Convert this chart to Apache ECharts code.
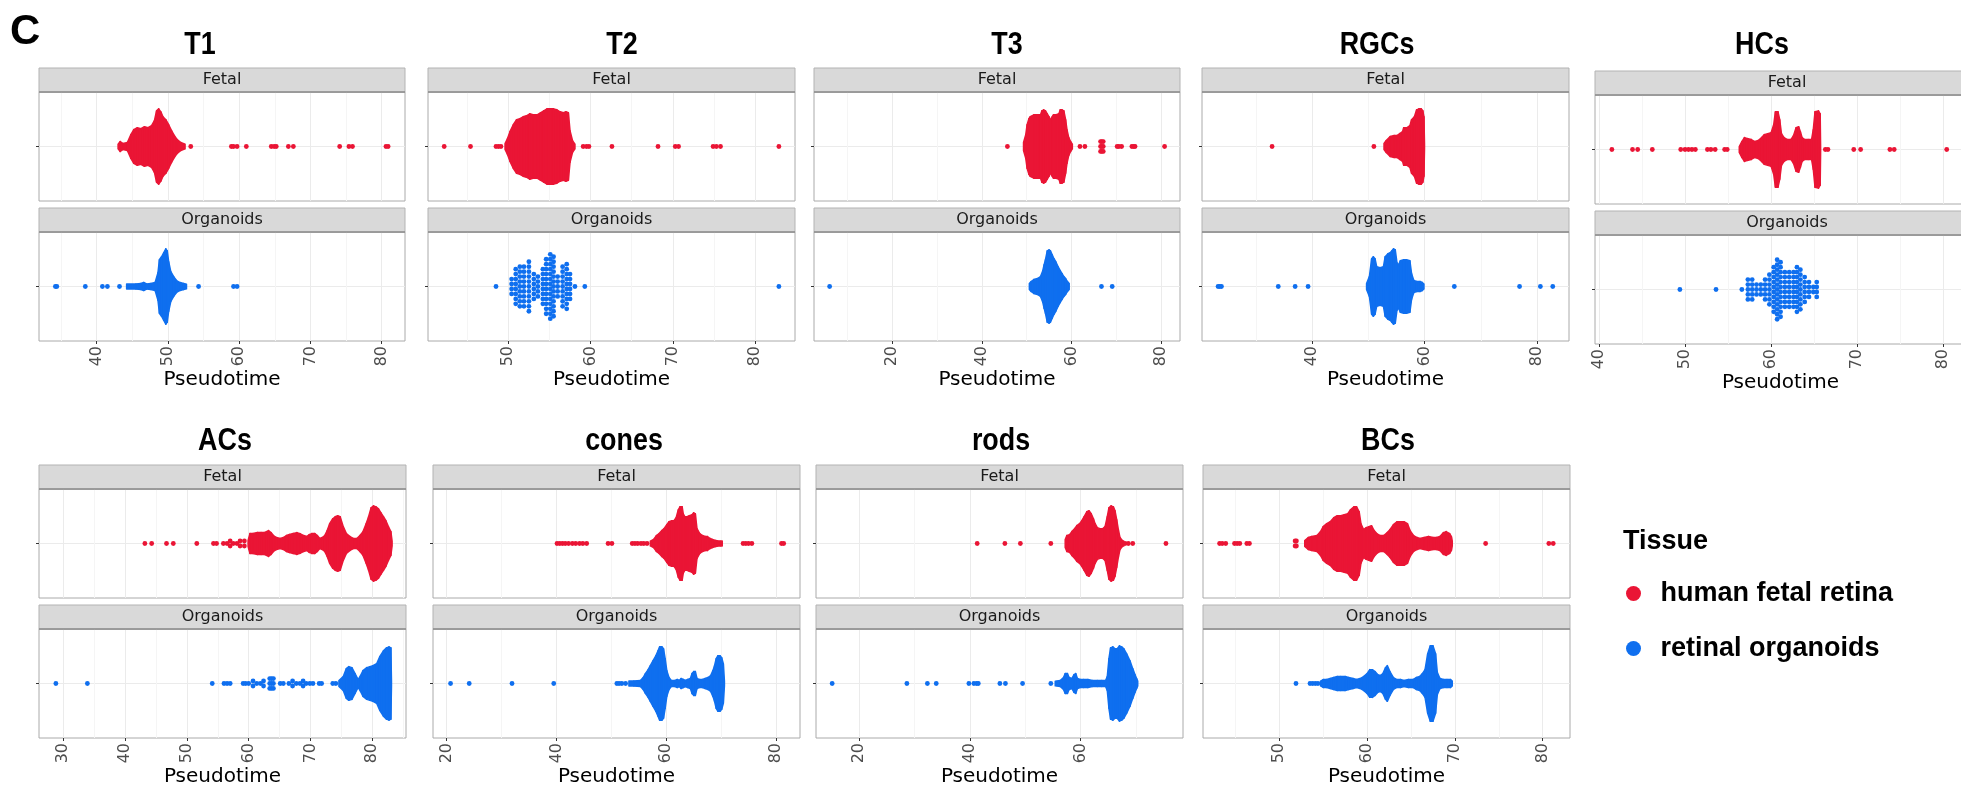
<!DOCTYPE html>
<html>
<head>
<meta charset="utf-8">
<title>Pseudotime by cell type</title>
<script src="https://cdn.jsdelivr.net/npm/echarts@6/dist/echarts.min.js"></script>
<style>
  html, body { margin: 0; padding: 0; background: #fff; }
  #chart { width: 1961px; height: 787px; }
</style>
</head>
<body>
<div id="chart"></div>
<script>
// panels and axes
const panelNames = ['T1', 'T2', 'T3', 'RGCs', 'HCs', 'ACs', 'cones', 'rods', 'BCs'];
const xMins = [31.9, 40.23, 2.51, 20.44, 39.54, 26.07, 17.5, 12.18, 41.31];
const xMaxs = [83.27, 84.86, 84.24, 85.69, 82.64, 85.45, 84.37, 78.48, 83.11];
const t1Ticks = [40, 50, 60, 70, 80];
const t2Ticks = [50, 60, 70, 80];
const t3Ticks = [20, 40, 60, 80];
const rgcTicks = [40, 60, 80];
const hcTicks = [40, 50, 60, 70, 80];
const acTicks = [30, 40, 50, 60, 70, 80];
const coneTicks = [20, 40, 60, 80];
const rodTicks = [20, 40, 60];
const bcTicks = [50, 60, 70, 80];
const facetNames = ['Fetal', 'Organoids'];
const tissueNames = ['human fetal retina', 'retinal organoids'];

// swarm bodies: [pseudotime, half height of the swarm]
// dots: [pseudotime, number of stacked dots]
const t1FetalBody = [[43.0,2],[43.3,5],[43.7,3],[44.3,4],[44.8,12],[45.2,17],[45.7,19],[46.2,18],[46.7,20],[47.2,19],[47.7,21],[48.1,26],[48.4,36],[48.7,38],[49.0,35],[49.3,30],[49.7,27],[50.1,22],[50.5,16],[50.9,11],[51.3,7],[51.8,4],[52.4,2]];
const t1FetalDots = [[53.2,1],[58.9,1],[59.2,1],[59.7,1],[61.0,1],[64.5,1],[64.9,1],[65.2,1],[66.9,1],[67.6,1],[74.1,1],[75.4,1],[75.9,1],[80.6,1],[80.9,1]];
const t1OrgBody = [[44.2,2],[45.5,2.5],[46.2,3],[46.6,4],[47.0,2.5],[47.6,3],[48.2,4],[48.6,14],[48.8,27],[49.1,30],[49.4,34],[49.7,38],[49.9,36],[50.1,25],[50.4,15],[50.8,10],[51.2,6],[51.7,4],[52.2,3],[52.6,2]];
const t1OrgDots = [[34.2,1],[34.4,1],[38.4,1],[40.8,1],[41.5,1],[43.2,1],[54.3,1],[59.2,1],[59.7,1]];

const t2FetalBody = [[49.6,3],[49.9,8],[50.2,15],[50.6,22],[51.0,27],[51.4,28],[51.8,30],[52.2,31],[52.6,33],[53.0,32],[53.5,32],[53.9,34],[54.3,36],[54.7,38],[55.1,38],[55.5,38],[55.9,37],[56.3,35],[56.7,34],[57.0,35],[57.3,34],[57.5,16],[57.8,6],[58.1,2]];
const t2FetalDots = [[42.2,1],[45.4,1],[48.5,1],[48.8,1],[49.1,1],[59.1,1],[59.5,1],[59.8,1],[62.6,1],[68.2,1],[70.3,1],[70.7,1],[74.9,1],[75.3,1],[75.8,1],[82.9,1]];
const t2OrgBody = [];
const t2OrgDots = [[48.5,1],[50.4,4],[50.9,8],[51.4,9],[51.9,9],[52.5,11],[53.1,6],[53.6,5],[54.2,8],[54.6,12],[55.1,14],[55.5,13],[56.0,5],[56.6,9],[57.1,10],[57.5,6],[58.1,1],[59.3,1],[82.9,1]];

const t3FetalBody = [[49.3,4],[49.8,12],[50.1,22],[50.5,28],[50.8,30],[51.6,32],[52.4,32],[53.1,32],[53.4,36],[53.8,37],[54.2,36],[54.6,33],[55.0,30],[55.3,27],[55.7,30],[56.0,32],[56.6,32],[57.2,33],[57.5,37],[57.9,37],[58.3,36],[58.7,27],[59.0,17],[59.4,9],[59.8,5],[60.2,2]];
const t3FetalDots = [[45.7,1],[61.9,1],[63.0,1],[66.5,3],[66.8,3],[67.1,3],[70.2,1],[70.6,1],[71.2,1],[73.5,1],[73.9,1],[74.2,1],[80.8,1]];
const t3OrgBody = [[50.6,3],[51.0,5],[51.6,7],[52.4,8],[53.1,10],[53.6,16],[53.9,22],[54.2,27],[54.6,36],[55.0,37],[55.3,36],[55.7,32],[56.1,28],[56.5,25],[57.0,20],[57.5,16],[57.9,13],[58.3,10],[58.7,8],[59.1,5],[59.5,3]];
const t3OrgDots = [[6.0,1],[66.7,1],[69.1,1]];

const rgcFetalBody = [[52.8,3],[53.2,6],[53.9,10],[54.6,11],[55.1,11],[55.6,13],[56.1,15],[56.3,19],[56.9,19],[57.4,21],[57.7,27],[58.2,30],[58.6,37],[59.0,38],[59.4,38],[59.7,36],[59.9,30],[60.0,2]];
const rgcFetalDots = [[32.9,1],[51.0,1]];
const rgcOrgBody = [[49.7,3],[50.2,10],[50.6,28],[50.9,30],[51.2,28],[51.5,20],[52.1,19],[52.7,20],[53.0,30],[53.5,33],[53.9,34],[54.2,36],[54.5,38],[54.8,37],[55.1,24],[55.4,22],[55.7,26],[56.3,27],[56.8,27],[57.4,26],[57.7,13],[58.1,6],[58.6,5],[59.2,5],[59.6,4],[59.9,2]];
const rgcOrgDots = [[23.3,1],[23.6,1],[23.9,1],[34.0,1],[37.0,1],[39.3,1],[65.3,1],[76.9,1],[80.6,1],[82.8,1]];

const hcFetalBody = [[56.3,3],[56.6,8],[56.9,12],[57.3,11],[57.7,10],[58.1,8],[58.5,9],[58.9,12],[59.2,15],[59.6,16],[60.0,17],[60.3,25],[60.5,38],[60.8,38],[61.0,30],[61.2,16],[61.5,12],[61.9,10],[62.3,10],[62.6,14],[62.9,22],[63.2,23],[63.4,18],[63.6,12],[63.9,10],[64.3,10],[64.7,10],[64.9,20],[65.1,38],[65.5,39],[65.7,36],[65.75,2]];
const hcFetalDots = [[41.5,1],[43.9,1],[44.5,1],[46.2,1],[49.5,1],[50.0,1],[50.4,1],[50.8,1],[51.2,1],[52.6,1],[53.0,1],[53.5,1],[54.6,1],[54.9,1],[66.3,1],[66.6,1],[69.6,1],[70.4,1],[73.8,1],[74.3,1],[80.4,1]];
const hcOrgBody = [];
const hcOrgDots = [[49.4,1],[53.6,1],[56.6,1],[57.3,5],[57.8,5],[58.3,3],[58.8,3],[59.3,5],[59.8,7],[60.3,10],[60.7,13],[61.1,12],[61.6,8],[62.1,8],[62.6,8],[63.0,10],[63.4,9],[63.9,6],[64.4,4],[64.9,2],[65.3,4]];

const acFetalBody = [[59.9,3],[60.2,10],[60.7,10],[61.4,11],[62.0,11],[62.4,11],[62.9,12],[63.2,13],[63.6,11],[64.0,8],[64.5,6],[65.1,5],[65.6,6],[66.1,8],[66.6,9],[67.2,10],[67.8,11],[68.3,10],[68.9,8],[69.4,7],[69.8,9],[70.2,10],[70.7,10],[71.1,8],[71.5,5],[71.9,6],[72.3,8],[72.7,13],[73.1,20],[73.6,25],[74.0,27],[74.4,28],[74.8,27],[75.3,17],[75.8,10],[76.4,7],[77.0,5],[77.5,5],[78.0,8],[78.5,12],[79.0,20],[79.4,27],[79.8,36],[80.2,38],[80.6,37],[81.0,35],[81.4,31],[81.8,27],[82.2,23],[82.6,17],[83.0,12],[83.2,2]];
const acFetalDots = [[43.2,1],[44.3,1],[46.7,1],[47.8,1],[51.6,1],[54.3,1],[54.8,1],[55.9,1],[56.5,1],[57.0,2],[57.5,1],[58.1,1],[58.6,2],[59.3,2]];
const acOrgBody = [[74.6,3],[75.3,7],[75.8,15],[76.2,17],[76.7,16],[77.2,10],[77.7,4],[78.1,8],[78.5,13],[79.1,16],[79.6,17],[80.1,18],[80.7,20],[81.2,27],[81.8,33],[82.3,36],[82.7,37],[83.0,36],[83.1,2]];
const acOrgDots = [[28.8,1],[33.9,1],[54.1,1],[56.0,1],[56.5,1],[57.0,1],[59.1,1],[59.5,1],[60.0,1],[60.7,2],[61.3,1],[61.9,1],[62.4,2],[63.4,3],[63.7,3],[64.0,3],[65.1,1],[65.6,1],[66.5,1],[67.1,2],[67.7,1],[68.3,1],[68.8,2],[69.3,1],[69.9,1],[70.4,1],[71.4,1],[71.8,1],[73.6,1],[74.1,1]];

const coneFetalBody = [[57.1,2],[57.7,4],[58.2,8],[58.7,10],[59.2,13],[59.6,15],[60.1,19],[60.5,22],[61.0,23],[61.4,23],[61.8,26],[62.2,34],[62.5,37],[62.9,37],[63.1,30],[63.4,27],[63.8,27],[64.2,28],[64.7,29],[65.0,31],[65.3,30],[65.6,15],[66.1,10],[66.6,8],[67.1,7],[67.5,7],[68.0,5],[68.4,4],[69.0,3],[69.8,2],[70.2,2]];
const coneFetalDots = [[40.1,1],[40.6,1],[41.1,1],[41.6,1],[42.2,1],[42.9,1],[43.5,1],[44.2,1],[44.8,1],[45.5,1],[49.4,1],[50.1,1],[53.8,1],[54.3,1],[54.8,1],[55.4,1],[55.9,1],[56.5,1],[74.0,1],[74.5,1],[75.0,1],[75.6,1],[81.0,1],[81.4,1]];
const coneOrgBody = [[53.2,2],[54.1,2.5],[55.3,3],[55.8,6],[56.2,10],[56.7,14],[57.1,18],[57.6,23],[58.1,28],[58.5,33],[58.8,37],[59.2,37],[59.5,35],[59.8,25],[60.1,13],[60.5,6],[60.9,3],[61.6,3],[62.0,4],[62.4,3],[62.7,5],[63.1,4],[63.5,3],[63.9,4],[64.4,5],[64.7,10],[65.0,12],[65.3,12],[65.6,5],[66.0,4],[66.6,4],[67.1,5],[67.6,6],[68.1,8],[68.5,13],[68.8,18],[69.1,25],[69.4,28],[69.8,28],[70.1,26],[70.4,20],[70.6,2]];
const coneOrgDots = [[20.7,1],[24.1,1],[31.9,1],[39.5,1],[51.0,1],[51.4,1],[51.9,1],[52.6,1]];

const rodFetalBody = [[57.2,4],[57.5,8],[58.0,9],[58.4,12],[58.9,15],[59.3,18],[59.8,20],[60.2,23],[60.6,27],[61.1,32],[61.5,33],[61.9,30],[62.3,25],[62.6,20],[63.0,16],[63.5,15],[64.0,15],[64.4,17],[64.8,27],[65.1,36],[65.5,38],[65.9,37],[66.2,33],[66.5,24],[66.8,14],[67.1,6],[67.5,3],[67.8,2]];
const rodFetalDots = [[41.3,1],[46.3,1],[49.1,1],[54.6,1],[68.0,1],[68.6,1],[69.4,1],[75.4,1]];
const rodOrgBody = [[55.4,2],[56.3,3],[56.9,6],[57.2,10],[57.6,10],[57.9,6],[58.4,5],[58.8,9],[59.1,10],[59.4,5],[59.9,4],[60.5,4],[61.3,4],[62.1,3],[63.0,3],[63.8,3],[64.5,3],[64.8,7],[65.1,25],[65.4,36],[65.8,37],[66.2,35],[66.6,35],[67.0,38],[67.4,37],[67.8,35],[68.3,30],[68.9,23],[69.4,15],[69.8,9],[70.1,5],[70.3,2]];
const rodOrgDots = [[15.1,1],[28.6,1],[32.3,1],[33.9,1],[39.8,1],[40.7,1],[41.2,1],[41.5,1],[45.4,1],[46.4,1],[49.5,1],[54.6,1]];

const bcFetalBody = [[52.9,3],[53.3,6],[53.7,7],[54.3,8],[54.7,12],[55.0,17],[55.4,20],[55.8,22],[56.2,26],[56.6,28],[57.0,28],[57.4,29],[57.8,30],[58.1,34],[58.5,37],[58.8,37],[59.1,32],[59.3,20],[59.6,14],[59.9,16],[60.2,17],[60.5,18],[60.8,13],[61.1,10],[61.5,8],[61.9,8],[62.3,11],[62.6,14],[63.0,19],[63.4,22],[63.8,22],[64.2,22],[64.6,20],[64.9,13],[65.3,8],[65.7,6],[66.0,5],[66.5,6],[67.0,7],[67.5,6],[67.9,6],[68.3,7],[68.7,11],[69.0,12],[69.4,10],[69.6,7],[69.7,2]];
const bcFetalDots = [[43.2,1],[43.5,1],[43.9,1],[44.9,1],[45.2,1],[45.5,1],[46.3,1],[46.6,1],[51.8,2],[51.95,2],[73.5,1],[80.7,1],[81.2,1]];
const bcOrgBody = [[54.7,2],[55.0,4],[55.4,4],[55.8,5],[56.2,6],[56.6,7],[57.0,7],[57.5,7],[57.9,6],[58.4,5],[58.8,4],[59.2,5],[59.6,7],[60.0,10],[60.3,14],[60.6,14],[60.9,12],[61.2,9],[61.5,8],[61.8,10],[62.1,16],[62.3,18],[62.6,12],[63.0,6],[63.4,4],[63.8,4],[64.2,3],[64.7,4],[65.2,4],[65.6,6],[66.0,7],[66.3,10],[66.6,14],[66.9,30],[67.2,38],[67.5,38],[67.8,30],[68.0,11],[68.3,5],[68.7,4],[69.1,4],[69.5,4],[69.7,2]];
const bcOrgDots = [[51.9,1],[53.5,1],[53.8,1],[54.1,1],[54.4,1]];

const tickSets = [t1Ticks, t2Ticks, t3Ticks, rgcTicks, hcTicks, acTicks, coneTicks, rodTicks, bcTicks];
const bodies = [
  [t1FetalBody, t1OrgBody], [t2FetalBody, t2OrgBody], [t3FetalBody, t3OrgBody],
  [rgcFetalBody, rgcOrgBody], [hcFetalBody, hcOrgBody], [acFetalBody, acOrgBody],
  [coneFetalBody, coneOrgBody], [rodFetalBody, rodOrgBody], [bcFetalBody, bcOrgBody]
];
const dots = [
  [t1FetalDots, t1OrgDots], [t2FetalDots, t2OrgDots], [t3FetalDots, t3OrgDots],
  [rgcFetalDots, rgcOrgDots], [hcFetalDots, hcOrgDots], [acFetalDots, acOrgDots],
  [coneFetalDots, coneOrgDots], [rodFetalDots, rodOrgDots], [bcFetalDots, bcOrgDots]
];

// layout in pixels
const colors = ['#EA1535', '#0F6FEF'];
const layout = [
  { left: 39,   right: 405,  top: 92,  titleX: 200,  titleY: 45 },
  { left: 428,  right: 795,  top: 92,  titleX: 622,  titleY: 45 },
  { left: 814,  right: 1180, top: 92,  titleX: 1007, titleY: 45 },
  { left: 1202, right: 1569, top: 92,  titleX: 1377, titleY: 45 },
  { left: 1595, right: 1966, top: 95,  titleX: 1762, titleY: 45 },
  { left: 39,   right: 406,  top: 489, titleX: 225,  titleY: 441 },
  { left: 433,  right: 800,  top: 489, titleX: 624,  titleY: 441 },
  { left: 816,  right: 1183, top: 489, titleX: 1001, titleY: 441 },
  { left: 1203, right: 1570, top: 489, titleX: 1388, titleY: 441 }
];
const PLOT_H = 109, FACET_GAP = 140, STRIP_H = 24;
const Y_HALF = 55, DOT_GAP = 5, MIN_H = 2.4;

const chart = echarts.init(document.getElementById('chart'));

const grids = [], xAxes = [], yAxes = [], series = [], extras = [];
const titles = [
  { text: 'C', left: 10, top: 11, padding: 0,
    textStyle: { fontSize: 42, fontWeight: 'bold', color: '#000', fontFamily: 'Liberation Sans, Arial' } },
  { text: 'Tissue', left: 1623, top: 528, padding: 0,
    textStyle: { fontSize: 27, fontWeight: 'bold', color: '#000', fontFamily: 'Liberation Sans, Arial' } }
];

function swarmDots(cols) {
  const out = [];
  cols.forEach(([x, n]) => {
    for (let k = 0; k < n; k++) out.push([x, (k - (n - 1) / 2) * DOT_GAP]);
  });
  return out;
}

function bodySegments(body) {
  const seg = [];
  for (let i = 0; i + 1 < body.length; i++) {
    seg.push([body[i][0], body[i][1], body[i + 1][0], body[i + 1][1]]);
  }
  return seg;
}

function renderBody(params, api) {
  const x0 = api.value(0), x1 = api.value(2);
  const h0 = Math.max(api.value(1), MIN_H), h1 = Math.max(api.value(3), MIN_H);
  const color = api.visual('color');
  return {
    type: 'polygon',
    shape: { points: [api.coord([x0, h0]), api.coord([x1, h1]), api.coord([x1, -h1]), api.coord([x0, -h0])] },
    style: { fill: color, stroke: color, lineWidth: 1.5, lineJoin: 'round' }
  };
}

function textEl(text, x, y, font, fill, z, scaleX) {
  return {
    type: 'text', x: x, y: y, z: z, scaleX: scaleX || 1, silent: true,
    style: { text: text, font: font, fill: fill,
      align: 'center', verticalAlign: 'middle', textAlign: 'center', textVerticalAlign: 'middle' }
  };
}

panelNames.forEach((name, p) => {
  const L = layout[p];
  const ticks = tickSets[p];
  const step = ticks[1] - ticks[0];
  // panel title, bold condensed look
  extras.push(textEl(name, L.titleX, L.titleY, 'bold 32px "Liberation Sans", Arial', '#000', 20, 0.84));
  facetNames.forEach((facet, f) => {
    const g = p * 2 + f;
    const top = L.top + f * FACET_GAP;
    const isOrg = f === 1;
    grids.push({
      left: L.left, top: top, width: L.right - L.left, height: PLOT_H,
      show: true, backgroundColor: '#fff', borderColor: '#aaaaaa', borderWidth: 1,
      containLabel: false, outerBoundsMode: 'none'
    });
    xAxes.push({
      type: 'value', gridIndex: g, min: xMins[p], max: xMaxs[p],
      minInterval: step, maxInterval: step, splitNumber: 5,
      name: isOrg ? 'Pseudotime' : '', nameLocation: 'middle', nameGap: 24,
      nameTextStyle: { fontSize: 20, color: '#000', fontFamily: 'DejaVu Sans' },
      axisLine: { show: false, onZero: false },
      axisTick: { show: isOrg, customValues: ticks, length: 3, lineStyle: { color: '#333' } },
      axisLabel: {
        show: isOrg, customValues: ticks, rotate: 90, margin: 5,
        fontSize: 16, color: '#4d4d4d', fontFamily: 'DejaVu Sans',
        formatter: v => (Math.abs(v / step - Math.round(v / step)) < 1e-6 ? String(Math.round(v)) : '')
      },
      splitLine: { show: true, lineStyle: { color: '#ebebeb', width: 1 } },
      minorTick: { show: false, splitNumber: 2 },
      minorSplitLine: { show: true, lineStyle: { color: '#f5f5f5', width: 1 } }
    });
    yAxes.push({
      type: 'value', gridIndex: g, min: -Y_HALF, max: Y_HALF, interval: Y_HALF,
      axisLine: { show: false, onZero: false },
      axisLabel: { show: false },
      axisTick: { show: true, customValues: [0], length: 3, lineStyle: { color: '#333' } },
      splitLine: { show: true, lineStyle: { color: '#ebebeb', width: 1 } }
    });
    series.push({
      type: 'scatter', name: tissueNames[f], xAxisIndex: g, yAxisIndex: g,
      symbol: 'circle', symbolSize: 4.8, itemStyle: { color: colors[f], opacity: 1 },
      data: swarmDots(dots[p][f]), silent: true, clip: true
    });
    if (bodies[p][f].length > 1) {
      series.push({
        type: 'custom', name: tissueNames[f], xAxisIndex: g, yAxisIndex: g,
        itemStyle: { color: colors[f] },
        dimensions: ['x0', 'h0', 'x1', 'h1'],
        encode: { x: [0, 2], y: [1, 3] },
        renderItem: renderBody, clip: true, silent: true,
        data: bodySegments(bodies[p][f])
      });
    }
    // facet strip
    const stripTop = top - STRIP_H;
    extras.push({
      type: 'rect', z: 10, silent: true,
      shape: { x: L.left, y: stripTop, width: L.right - L.left, height: STRIP_H },
      style: { fill: '#d9d9d9', stroke: '#b3b3b3', lineWidth: 1 }
    });
    extras.push({
      type: 'line', z: 11, silent: true,
      shape: { x1: L.left, y1: top, x2: L.right, y2: top },
      style: { stroke: '#8c8c8c', lineWidth: 1.5 }
    });
    extras.push(textEl(facet, (L.left + Math.min(L.right, 1961)) / 2 + (p === 4 ? 9 : 0), stripTop + STRIP_H / 2,
      '16px "DejaVu Sans"', '#1a1a1a', 12));
  });
});

chart.setOption({
  animation: false,
  backgroundColor: '#fff',
  title: titles,
  legend: {
    data: tissueNames, orient: 'vertical', left: 1626, top: 580, padding: 0,
    icon: 'circle', itemWidth: 44, itemHeight: 15, itemGap: 28, selectedMode: false,
    textStyle: { fontSize: 27, fontWeight: 'bold', color: '#000', fontFamily: 'Liberation Sans, Arial' }
  },
  grid: grids,
  xAxis: xAxes,
  yAxis: yAxes,
  series: series,
  graphic: { elements: extras }
});
</script>
</body>
</html>
